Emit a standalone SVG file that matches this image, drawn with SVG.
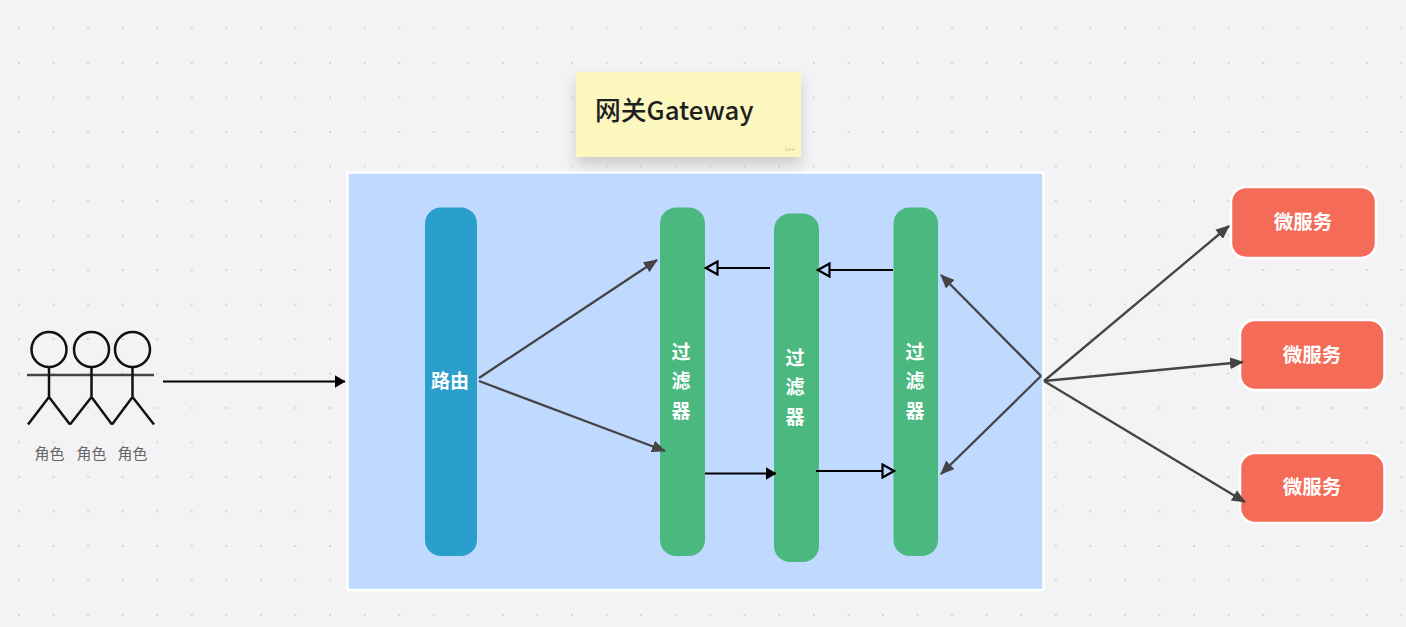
<svg xmlns="http://www.w3.org/2000/svg" width="1406" height="627" viewBox="0 0 1406 627">
  <style>
    .cjk { font-family: "Noto Sans CJK SC", "Noto Sans", sans-serif; }
    .bar { fill: #4bb97f; }
    .bar-label { fill: #fff; font-size: 19px; font-weight: 700; text-anchor: middle; }
    .svc { fill: #f46b58; stroke: #fff; stroke-width: 2.5; }
    .svc-label { fill: #fff; font-size: 19.500px; font-weight: 700; text-anchor: middle; }
    .actor { fill: none; stroke: #111; stroke-width: 2.500; }
    .actor-arms { fill: none; stroke: #444; stroke-width: 2.500; }
    .actor-label { fill: #666; font-size: 15px; text-anchor: middle; }
    .gray { fill: none; stroke: #444; stroke-width: 2.300; marker-end: url(#gray-head); }
    .solid { fill: none; stroke: #000; stroke-width: 2.200; marker-end: url(#solid-head); }
    .hollow { fill: none; stroke: #000; stroke-width: 2.200; marker-end: url(#hollow-head); }
  </style>
  <defs>
    <pattern id="dots" x="18" y="27.500" width="34.560" height="34.500" patternUnits="userSpaceOnUse">
      <rect width="2" height="2" fill="#d5d5d8"/>
    </pattern>
    <marker id="gray-head" viewBox="0 0 14 12" refX="13" refY="6" markerUnits="userSpaceOnUse" markerWidth="14" markerHeight="12" orient="auto">
      <path d="M0 0 L14 6 L0 12 Z" fill="#444"/>
    </marker>
    <marker id="solid-head" viewBox="0 0 11 13" refX="10.500" refY="6.500" markerUnits="userSpaceOnUse" markerWidth="11" markerHeight="13" orient="auto">
      <path d="M0 0 L11 6.500 L0 13 Z" fill="#000"/>
    </marker>
    <marker id="hollow-head" viewBox="0 0 15 16" refX="14" refY="8" markerUnits="userSpaceOnUse" markerWidth="15" markerHeight="16" orient="auto">
      <path d="M1.500 1.500 L13 8 L1.500 14.500 Z" fill="#c0d9ff" stroke="#000" stroke-width="2.200"/>
    </marker>
    <filter id="note-shadow" x="-15%" y="-20%" width="130%" height="160%">
      <feDropShadow dx="0" dy="8" stdDeviation="7" flood-color="#000" flood-opacity="0.16"/>
    </filter>
  </defs>

  <!-- canvas with dot grid -->
  <rect width="1406" height="627" fill="#f3f3f5"/>
  <rect width="1406" height="627" fill="url(#dots)"/>

  <!-- gateway container -->
  <g id="gateway-box">
    <rect x="347.500" y="172.500" width="696" height="417.500" fill="#c0d9ff" stroke="#fff" stroke-width="2.500"/>
  </g>

  <!-- sticky note title -->
  <g id="note">
    <rect x="576" y="72" width="225" height="85" fill="#fbf7bf" filter="url(#note-shadow)"/>
    <text class="cjk" x="595" y="120" font-size="25.800" font-weight="500" fill="#1f1f1f">网关Gateway</text>
    <text x="790" y="151" font-family="'Liberation Sans', sans-serif" font-size="6" fill="#c8c5a0" text-anchor="middle">Lee</text>
  </g>

  <!-- three stick figures -->
  <g id="actor-1">
    <circle class="actor" cx="49" cy="349.500" r="17.500"/>
    <path class="actor-arms" d="M27 375 H70"/>
    <path class="actor" d="M49 367 V397 M28 424.500 L49 397 L70 424.500"/>
    <text class="actor-label cjk" x="49.500" y="459">角色</text>
  </g>
  <g id="actor-2">
    <circle class="actor" cx="91.500" cy="349.500" r="17.500"/>
    <path class="actor-arms" d="M70 375 H112"/>
    <path class="actor" d="M91.500 367 V397 M70 424.500 L91.500 397 L112 424.500"/>
    <text class="actor-label cjk" x="91.500" y="459">角色</text>
  </g>
  <g id="actor-3">
    <circle class="actor" cx="132.500" cy="349.500" r="17.500"/>
    <path class="actor-arms" d="M112 375 H154"/>
    <path class="actor" d="M132.500 367 V397 M112 424.500 L132.500 397 L154 424.500"/>
    <text class="actor-label cjk" x="132.500" y="459">角色</text>
  </g>

  <!-- route column -->
  <g id="route">
    <rect x="425" y="207.500" width="52" height="348.500" rx="16" fill="#2a9fcc"/>
    <text class="bar-label cjk" x="450" y="388">路由</text>
  </g>

  <!-- filter columns -->
  <g id="filter-1">
    <rect class="bar" x="660" y="207.500" width="45" height="348.500" rx="16"/>
    <text class="bar-label cjk"><tspan x="681" y="359">过</tspan><tspan x="681" y="388">滤</tspan><tspan x="681" y="418">器</tspan></text>
  </g>
  <g id="filter-2">
    <rect class="bar" x="774" y="213.500" width="45" height="348.500" rx="16"/>
    <text class="bar-label cjk"><tspan x="795" y="365">过</tspan><tspan x="795" y="394">滤</tspan><tspan x="795" y="424">器</tspan></text>
  </g>
  <g id="filter-3">
    <rect class="bar" x="893.500" y="207.500" width="44.500" height="348.500" rx="16"/>
    <text class="bar-label cjk"><tspan x="915" y="359">过</tspan><tspan x="915" y="388">滤</tspan><tspan x="915" y="418">器</tspan></text>
  </g>

  <!-- microservices -->
  <g id="service-1">
    <rect class="svc" x="1231" y="187" width="145" height="71" rx="15"/>
    <text class="svc-label cjk" x="1303" y="229">微服务</text>
  </g>
  <g id="service-2">
    <rect class="svc" x="1240" y="320" width="144.500" height="70" rx="15"/>
    <text class="svc-label cjk" x="1312" y="361.500">微服务</text>
  </g>
  <g id="service-3">
    <rect class="svc" x="1240" y="453" width="144.500" height="70" rx="15"/>
    <text class="svc-label cjk" x="1312" y="494">微服务</text>
  </g>

  <!-- connectors -->
  <g id="connectors">
    <path class="solid" d="M163 381.500 H345"/>
    <path class="gray" d="M479 378 L657 260"/>
    <path class="gray" d="M479 381 L665 451"/>
    <path class="solid" d="M705 473.500 H776"/>
    <path class="hollow" d="M816 471 H895"/>
    <path class="hollow" d="M770 268 H705"/>
    <path class="hollow" d="M893 270 H817"/>
    <path class="gray" d="M1041 376 L941 275"/>
    <path class="gray" d="M1041 376 L941 474"/>
    <path class="gray" d="M1044 381 L1229 226"/>
    <path class="gray" d="M1044 381 L1243 362"/>
    <path class="gray" d="M1044 381 L1245 502"/>
  </g>
</svg>
